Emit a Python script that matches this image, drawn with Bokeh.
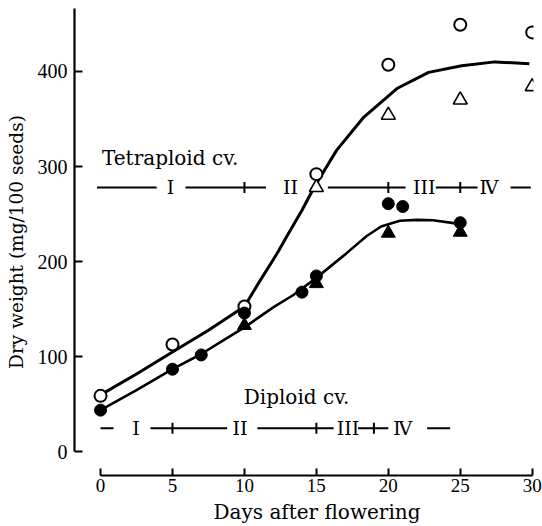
from bokeh.plotting import figure
from bokeh.models import FixedTicker, Range1d, Title
from bokeh.core.properties import value
from bokeh.embed import file_html
from bokeh.resources import INLINE

# ---------------- data ----------------
# Tetraploid cultivar
tet_circle_days = [0, 5, 10, 15, 20, 25, 30]
tet_circle_wt = [59, 113, 153, 292, 407, 449, 441]
tet_tri_days = [15, 20, 25, 30]
tet_tri_wt = [278, 354, 370, 384]
tet_curve_days = [0, 2.5, 5, 7.5, 10, 11, 12, 12.4, 13, 14, 14.8, 16.4, 18.3, 20.6, 22.8, 25.1, 27.4, 29.8]
tet_curve_wt = [60, 82, 105, 128, 153, 178, 202, 212, 228, 254, 277, 317, 352, 382, 399, 406, 410, 408]

# Diploid cultivar
dip_circle_days = [0, 5, 7, 10, 14, 15, 20, 21, 25]
dip_circle_wt = [44, 87, 102, 146, 168, 185, 261, 258, 241]
dip_tri_days = [10, 15, 20, 25]
dip_tri_wt = [133, 177, 230, 231]
dip_curve_days = [0, 2.5, 5, 7, 8.5, 10, 12, 13.4, 15, 17.1, 18.5, 19.5, 20.8, 22, 23.1, 24.8]
dip_curve_wt = [44, 65, 87, 103, 117, 131, 152, 165, 183, 209, 227, 237, 243, 244, 243.6, 240]

# Growth stages
stage_labels = ["I", "II", "III", "Ⅳ"]
tet_stage_bounds = [10, 20, 25]
dip_stage_bounds = [5, 15, 19]

y_ticks = [0, 100, 200, 300, 400]
x_ticks = [0, 5, 10, 15, 20, 25, 30]

# ---------------- layout ----------------
SERIF = "DejaVu Serif"
TICKFONT = "Liberation Serif"

tet_row_y = 278
tet_row_span = (-0.25, 29.9)
tet_label_x = [4.86, 13.2, 22.5, 27.0]
tet_gaps = [(3.9, 5.9), (11.5, 15.8), (21.2, 23.3), (26.2, 28.5)]

dip_row_y = 25
dip_row_span = (0.0, 24.3)
dip_label_x = [2.47, 9.7, 17.2, 21.0]
dip_gaps = [(0.9, 3.47), (8.8, 10.9), (16.2, 17.9), (20.0, 22.7)]


def segments(span, gaps):
    xs0, xs1 = [], []
    start = span[0]
    for g0, g1 in gaps:
        xs0.append(start)
        xs1.append(g0)
        start = g1
    xs0.append(start)
    xs1.append(span[1])
    return xs0, xs1


p = figure(width=542, height=526,
           x_range=Range1d(-1.81, 30.09), y_range=Range1d(-24.7, 466.1),
           output_backend="svg", toolbar_location=None,
           min_border_left=74, min_border_right=9, min_border_top=8, min_border_bottom=50)
p.xgrid.visible = False
p.ygrid.visible = False
p.outline_line_color = None
p.background_fill_color = "white"
p.border_fill_color = "white"

# axes
ya = p.yaxis[0]
ya.bounds = (0, 466)
ya.ticker = FixedTicker(ticks=y_ticks)
xa = p.xaxis[0]
xa.bounds = (0, 30)
xa.ticker = FixedTicker(ticks=x_ticks)
for ax, tin in ((ya, 8), (xa, 7)):
    ax.major_tick_in = tin
    ax.major_tick_out = 0
    ax.minor_tick_in = 0
    ax.minor_tick_out = 0
    ax.axis_line_width = 2.2
    ax.axis_line_color = "black"
    ax.major_tick_line_width = 2
    ax.major_tick_line_color = "black"
    ax.major_label_text_font = TICKFONT
    ax.major_label_text_color = "black"
    ax.axis_label_text_font = SERIF
    ax.axis_label_text_font_style = "normal"
    ax.axis_label_text_color = "black"
ya.major_label_text_font_size = "20px"
ya.major_label_standoff = 7
ya.axis_label = "Dry weight (mg/100 seeds)"
ya.axis_label_text_font_size = "18.5px"
ya.axis_label_standoff = 8
xa.major_label_text_font_size = "19px"
xa.major_label_standoff = 3

# x-axis title, placed under the bounded axis line (0..30)
p.add_layout(Title(text="Days after flowering", align="left", offset=139,
                   standoff=6, text_font=SERIF, text_font_size="20px",
                   text_font_style="normal", text_color="black"), "below")

# fitted curves
p.line(tet_curve_days, tet_curve_wt, line_color="black", line_width=3)
p.line(dip_curve_days, dip_curve_wt, line_color="black", line_width=2.6)

# stage rows
for row_y, span, gaps, lab_x, bounds in (
        (tet_row_y, tet_row_span, tet_gaps, tet_label_x, tet_stage_bounds),
        (dip_row_y, dip_row_span, dip_gaps, dip_label_x, dip_stage_bounds)):
    x0, x1 = segments(span, gaps)
    p.segment(x0=x0, y0=[row_y] * len(x0), x1=x1, y1=[row_y] * len(x1),
              line_color="black", line_width=2)
    p.scatter(bounds, [row_y] * len(bounds), marker="dash", angle=1.5708,
              size=11, line_color="black", line_width=2)
    p.text(lab_x, [row_y] * len(lab_x), text=stage_labels,
           text_font=value(SERIF), text_font_size=value("19px"), text_color="black",
           text_align="center", text_baseline="middle")

p.text([0.1], [309], text=["Tetraploid cv."], text_font=value(SERIF),
       text_font_size=value("20px"), text_color="black",
       text_align="left", text_baseline="middle")
p.text([9.95], [58], text=["Diploid cv."], text_font=value(SERIF),
       text_font_size=value("20px"), text_color="black",
       text_align="left", text_baseline="middle")

# points
p.scatter(tet_circle_days, tet_circle_wt, marker="circle", size=12,
          fill_color="white", line_color="black", line_width=2)
p.scatter(tet_tri_days, tet_tri_wt, marker="triangle", size=14,
          fill_color="white", line_color="black", line_width=1.6)
p.scatter(dip_circle_days, dip_circle_wt, marker="circle", size=12,
          fill_color="black", line_color="black", line_width=1)
p.scatter(dip_tri_days, dip_tri_wt, marker="triangle", size=14,
          fill_color="black", line_color="black", line_width=1)

open("out.html", "w").write(file_html(p, INLINE))
